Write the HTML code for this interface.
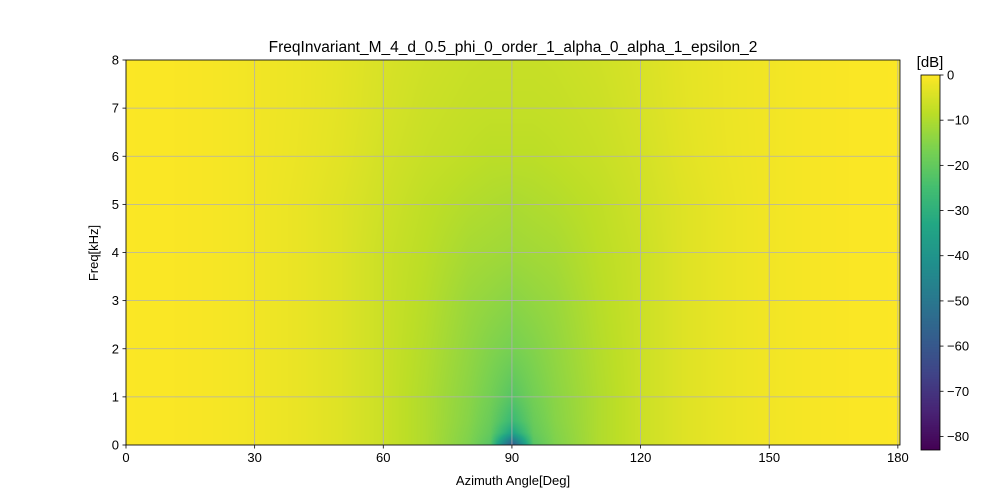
<!DOCTYPE html>
<html><head><meta charset="utf-8">
<style>
html,body{margin:0;padding:0;background:#fff;}
#wrap{position:relative;width:1000px;height:500px;font-family:"Liberation Sans",sans-serif;color:#000;}
</style></head>
<body>
<div id="wrap">
<canvas id="hm" width="774" height="385" style="position:absolute;left:126px;top:60px;"></canvas>
<canvas id="cb" width="19" height="375" style="position:absolute;left:921px;top:75px;"></canvas>
<svg id="ov" width="1000" height="500" style="position:absolute;left:0;top:0;"></svg>
</div>
<script>
const angles=[0,10,20,30,40,50,60,70,80,85,90,95,100,110,120,130,140,150,160,170,180];
const freqs=[0,0.25,0.5,1,2,3,4,5,6,7,8];
const row_f0   =[-0.3,-0.4,-0.8,-1.5,-2.5,-4,-6.5,-10,-16,-22,-60,-22,-16,-10,-6.5,-4,-2.5,-1.5,-0.8,-0.4,-0.3];
const row_f025 =[-0.3,-0.4,-0.8,-1.5,-2.5,-4,-6.5,-10,-15.5,-20,-35,-20,-15.5,-10,-6.5,-4,-2.5,-1.5,-0.8,-0.4,-0.3];
const row_f05  =[-0.3,-0.4,-0.8,-1.5,-2.5,-4,-6.5,-10,-15,-19,-27,-19,-15,-10,-6.5,-4,-2.5,-1.5,-0.8,-0.4,-0.3];
const row_f1   =[-0.3,-0.4,-0.8,-1.5,-2.5,-4,-6.5,-10,-14.5,-17.5,-22,-17.5,-14.5,-10,-6.5,-4,-2.5,-1.5,-0.8,-0.4,-0.3];
const row_f2   =[-0.3,-0.4,-0.8,-1.5,-2.5,-4,-6.5,-9.5,-13.5,-15.5,-17,-15.5,-13.5,-9.5,-6.5,-4,-2.5,-1.5,-0.8,-0.4,-0.3];
const row_f3   =[-0.3,-0.4,-0.8,-1.5,-2.5,-4,-6.5,-9,-12.5,-13.5,-14.5,-13.5,-12.5,-9,-6.5,-4,-2.5,-1.5,-0.8,-0.4,-0.3];
const row_f4   =[-0.3,-0.4,-0.8,-1.5,-2.5,-4,-6.5,-8.5,-11,-11.5,-12,-11.5,-11,-8.5,-6.5,-4,-2.5,-1.5,-0.8,-0.4,-0.3];
const row_f5   =[-0.3,-0.4,-0.8,-1.5,-2.5,-4,-6,-8,-9.5,-10,-10.5,-10,-9.5,-8,-6,-4,-2.5,-1.5,-0.8,-0.4,-0.3];
const row_f6   =[-0.3,-0.4,-0.8,-1.5,-2.3,-3.5,-5.5,-7,-8,-8.5,-8.5,-8.5,-8,-7,-5.5,-3.5,-2.3,-1.5,-0.8,-0.4,-0.3];
const row_f7   =[-0.3,-0.4,-0.8,-1.5,-2.2,-3.3,-5,-6.5,-7.3,-7.5,-7.5,-7.5,-7.3,-6.5,-5,-3.3,-2.2,-1.5,-0.8,-0.4,-0.3];
const row_f8   =[-0.3,-0.4,-0.8,-1.5,-2.2,-3.2,-4.8,-6,-6.8,-7,-7,-7,-6.8,-6,-4.8,-3.2,-2.2,-1.5,-0.8,-0.4,-0.3];
const values=[row_f0,row_f025,row_f05,row_f1,row_f2,row_f3,row_f4,row_f5,row_f6,row_f7,row_f8];
const xTicks=[0,30,60,90,120,150,180];
const yTicks=[0,1,2,3,4,5,6,7,8];
const cbTicks=[0,-10,-20,-30,-40,-50,-60,-70,-80];
const vmin=-83, vmax=0;

const PL=126,PR=900,PT=60,PB=445,X0=0,X1=180.5;
const xs=a=>PL+(a-X0)/(X1-X0)*(PR-PL);
const ys=f=>PB-(f/8)*(PB-PT);
const CT=75,CB=450;
const cy=v=>CT+(vmax-v)/(vmax-vmin)*(CB-CT);

const vir=[[68,1,84],[72,35,116],[64,67,135],[52,94,141],[41,120,142],[32,144,140],[34,167,132],[68,190,112],[121,209,81],[189,222,38],[253,231,37]];
function cmap(v){let t=(v-vmin)/(vmax-vmin);t=Math.max(0,Math.min(1,t))*(vir.length-1);const i=Math.min(vir.length-2,Math.floor(t)),f=t-i;return vir[i].map((c,k)=>Math.round(c+(vir[i+1][k]-c)*f));}
function idx(arr,v){for(let i=0;i<arr.length-1;i++)if(v<=arr[i+1])return i;return arr.length-2;}
function sample(a,f){const i=idx(angles,a),j=idx(freqs,f);const ta=Math.max(0,Math.min(1,(a-angles[i])/(angles[i+1]-angles[i])));const tf=Math.max(0,Math.min(1,(f-freqs[j])/(freqs[j+1]-freqs[j])));const v00=values[j][i],v01=values[j][i+1],v10=values[j+1][i],v11=values[j+1][i+1];return (v00*(1-ta)+v01*ta)*(1-tf)+(v10*(1-ta)+v11*ta)*tf;}

const hm=document.getElementById('hm'),ctx=hm.getContext('2d');
const img=ctx.createImageData(hm.width,hm.height);
for(let y=0;y<hm.height;y++){const f=8*(1-(y+0.5)/hm.height);for(let x=0;x<hm.width;x++){const a=X0+(x+0.5)/hm.width*(X1-X0);const c=cmap(sample(Math.max(0,Math.min(180,a)),f));const p=(y*hm.width+x)*4;img.data[p]=c[0];img.data[p+1]=c[1];img.data[p+2]=c[2];img.data[p+3]=255;}}
ctx.putImageData(img,0,0);
const cb=document.getElementById('cb'),cc=cb.getContext('2d');
for(let y=0;y<cb.height;y++){const v=vmax-(y+0.5)/cb.height*(vmax-vmin);const c=cmap(v);cc.fillStyle=`rgb(${c})`;cc.fillRect(0,y,cb.width,1);}

const svg=document.getElementById('ov'),NS='http://www.w3.org/2000/svg';
function mk(tag,attrs,txt){const e=document.createElementNS(NS,tag);for(const k in attrs)e.setAttribute(k,attrs[k]);if(txt!==undefined)e.textContent=txt;svg.appendChild(e);return e;}
xTicks.forEach(t=>{const x=xs(t);
 const g=mk('line',{x1:x,x2:x,y1:PT,y2:PB,stroke:'#b0b0b0','stroke-width':0.8});
 
 
 mk('line',{x1:x,x2:x,y1:PB,y2:PB+3.5,stroke:'#000','stroke-width':0.8});
 const l=mk('text',{x:x,y:PB+17,'font-size':13,'text-anchor':'middle','font-family':'Liberation Sans'},t);
 
 
});
yTicks.forEach(t=>{const y=ys(t);
 const g=mk('line',{x1:PL,x2:PR,y1:y,y2:y,stroke:'#b0b0b0','stroke-width':0.8});
 
 
 mk('line',{x1:PL-3.5,x2:PL,y1:y,y2:y,stroke:'#000','stroke-width':0.8});
 const l=mk('text',{x:PL-7,y:y+4.5,'font-size':13,'text-anchor':'end','font-family':'Liberation Sans'},t);
 
 
});
cbTicks.forEach(t=>{const y=cy(t);
 mk('line',{x1:940,x2:943.5,y1:y,y2:y,stroke:'#000','stroke-width':0.8});
 const l=mk('text',{x:947,y:y+4.5,'font-size':13,'font-family':'Liberation Sans'},t===0?'0':'\u2212'+Math.abs(t));
 
 
});
const fr=mk('rect',{x:PL,y:PT,width:PR-PL,height:PB-PT,fill:'none',stroke:'#000','stroke-width':0.8});


mk('rect',{x:921,y:CT,width:19,height:CB-CT,fill:'none',stroke:'#000','stroke-width':0.8});
const ti=mk('text',{x:513,y:52,'font-size':15.5,'text-anchor':'middle','font-family':'Liberation Sans'},'FreqInvariant_M_4_d_0.5_phi_0_order_1_alpha_0_alpha_1_epsilon_2');


const xt=mk('text',{x:513,y:485,'font-size':13,'text-anchor':'middle','font-family':'Liberation Sans'},'Azimuth Angle[Deg]');


const yt=mk('text',{x:98,y:253,'font-size':13,'text-anchor':'middle','font-family':'Liberation Sans',transform:'rotate(-90 98 253)'},'Freq[kHz]');


const ct=mk('text',{x:930,y:67,'font-size':15,'text-anchor':'middle','font-family':'Liberation Sans'},'[dB]');


</script>
</body></html>
